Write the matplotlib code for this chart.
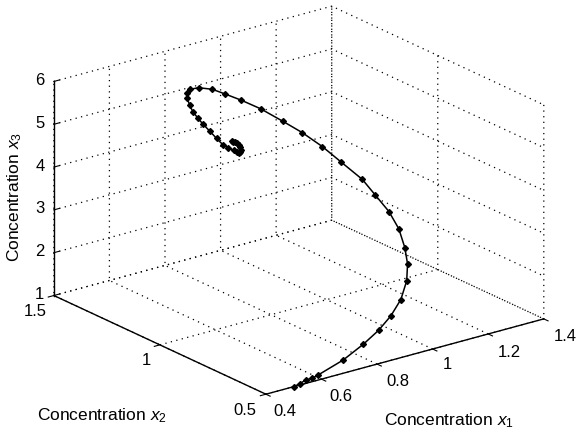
import matplotlib
matplotlib.use("Agg")
import matplotlib.pyplot as plt
from mpl_toolkits.mplot3d import proj3d

plt.rcParams['font.family'] = ['Liberation Sans', 'DejaVu Sans']
plt.rcParams['mathtext.fontset'] = 'custom'
plt.rcParams['mathtext.rm'] = 'Liberation Sans'
plt.rcParams['mathtext.it'] = 'Liberation Sans:italic'

x1 = [.50, .522, .543, .566, .595, .701, .796, .874, .941, 1.0, 1.044, 1.07, 1.083, 1.092, 1.087,
      1.069, 1.052, 1.023, 1.0, .966, .927, .877, .831, .793, .764, .73, .706, .702, .704, .713,
      .717, .727, .739, .756, .772, .787, .799, .812, .817, .822, .826, .83, .826, .822, .818, .815,
      .809, .803]
x2 = [.50, .50, .50, .50, .51, .53, .56, .59, .62, .65, .68, .71, .74, .78, .82,
      .86, .90, .96, 1.02, 1.07, 1.11, 1.15, 1.18, 1.21, 1.23, 1.25, 1.26, 1.27, 1.27, 1.27,
      1.26, 1.25, 1.24, 1.23, 1.22, 1.21, 1.20, 1.19, 1.185, 1.18, 1.18, 1.18, 1.18, 1.18, 1.185, 1.19,
      1.19, 1.19]
x3 = [1.0, 1.03, 1.08, 1.08, 1.08, 1.20, 1.33, 1.45, 1.60, 1.81, 2.10, 2.38, 2.67, 3.00, 3.32,
      3.64, 3.95, 4.26, 4.53, 4.80, 5.04, 5.33, 5.54, 5.69, 5.80, 5.85, 5.83, 5.73, 5.61, 5.43,
      5.29, 5.15, 5.00, 4.83, 4.66, 4.51, 4.44, 4.38, 4.35, 4.32, 4.35, 4.39, 4.45, 4.52, 4.545, 4.57,
      4.59, 4.61]

x1_ticks = [0.4, 0.6, 0.8, 1, 1.2, 1.4]
x2_ticks = [0.5, 1, 1.5]
x3_ticks = [1, 2, 3, 4, 5, 6]
x1_labels = ['0.4', '0.6', '0.8', '1', '1.2', '1.4']
x2_labels = ['0.5', '1', '1.5']
x3_labels = ['1', '2', '3', '4', '5', '6']

fig = plt.figure(figsize=(5.78, 4.38), dpi=100)
ax = fig.add_axes([3.9 / 578, 12.9 / 438, 1, 1], projection='3d', proj_type='ortho')
ax.view_init(elev=20.8, azim=232.65)
ax.set_box_aspect((1, 1, 0.655), zoom=1.2075)

ax.plot(x1, x2, x3, color='k', lw=1.1, marker='D', ms=3.0)

ax.set_xlim(0.4, 1.4, view_margin=0)
ax.set_ylim(0.5, 1.5, view_margin=0)
ax.set_zlim(1, 6, view_margin=0)
ax.set_xticks(x1_ticks, [''] * 6)
ax.set_yticks(x2_ticks, [''] * 3)
ax.set_zticks(x3_ticks, [''] * 6)

for axis in (ax.xaxis, ax.yaxis, ax.zaxis):
    axis.set_pane_color((1, 1, 1, 0))
    axis.pane.set_edgecolor('none')
    axis._axinfo['grid'].update(color='k', linewidth=0.9, linestyle=(0, (1, 3.5)))
    axis._axinfo['tick'].update(inward_factor=0.0, outward_factor=0.25)
    axis._axinfo['axisline']['linewidth'] = 1.0
    axis.line.set_color('k')
    axis.line.set_linewidth(1.0)
# x and y ticks have to flip to point away from the box
ax.xaxis._axinfo['tick']['outward_factor'] = -0.25
ax.yaxis._axinfo['tick']['outward_factor'] = -0.25


# tick label placed a fixed pixel offset from its tick
def tick_label(p, text, dx, dy):
    a, b, _ = proj3d.proj_transform(p[0], p[1], p[2], ax.get_proj())
    ax.annotate(text, xy=(a, b), xycoords='data', xytext=(dx, dy), textcoords='offset pixels',
                ha='center', va='center', fontsize=12, annotation_clip=False)


x1_dx = [19, 19, 21, 15, 21, 21]
x1_dy = [-17, -17, -17, -15, -19, -18]
x2_dx = [-21, -14, -19]
for v, t, dx, dy in zip(x1_ticks, x1_labels, x1_dx, x1_dy):
    tick_label((v, 0.5, 1), t, dx, dy)
for v, t, dx in zip(x2_ticks, x2_labels, x2_dx):
    tick_label((0.4, v, 1), t, dx, -16)
for v, t in zip(x3_ticks, x3_labels):
    tick_label((0.4, 1.5, v), t, -14, 1)

fig.text(448.5 / 578, 1 - 420.5 / 438, r'Concentration $x_1$', ha='center', va='center', fontsize=12.5)
fig.text(102 / 578, 1 - 416 / 438, r'Concentration $x_2$', ha='center', va='center', fontsize=12.5)
fig.text(15 / 578, 1 - 197 / 438, r'Concentration $x_3$', ha='center', va='center', fontsize=12.5,
         rotation=90)

fig.savefig('out.png', dpi=100)
